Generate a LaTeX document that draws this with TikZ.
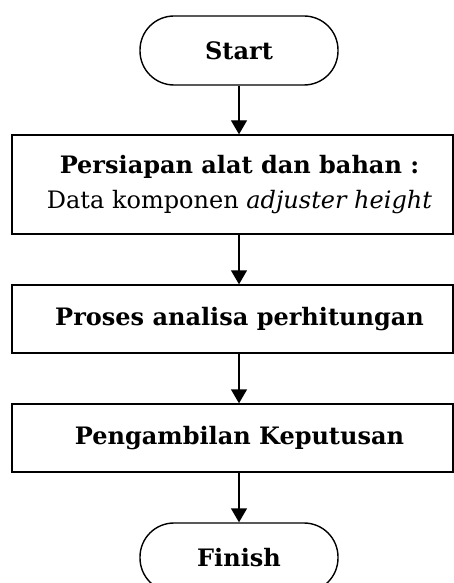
\documentclass[tikz,border=0pt]{standalone}
\usepackage{fontspec}
\setmainfont{DejaVu Serif}
\usetikzlibrary{arrows.meta}
\newcommand{\sh}{\hspace*{14pt}}
\begin{document}
\begin{tikzpicture}[x=1pt,y=-1pt,
  every node/.style={font=\fontsize{24}{35}\selectfont},
  term/.style={draw,line width=1.4pt,rounded corners=34pt,minimum width=198pt,minimum height=69pt,inner sep=0pt,font=\fontsize{24}{30}\selectfont\bfseries},
  proc/.style={draw,line width=1.4pt,minimum width=441pt,inner sep=0pt,align=center},
  arr/.style={line width=1.4pt,-{Triangle[length=14pt,width=16pt]}}]
\useasboundingbox (0,0) rectangle (454,583);
\clip (0,0) rectangle (454,583);
\node[term] (start) at (239,50.5) {\raisebox{-1.5pt}{Start}};
\node[proc,minimum height=99pt] (b1) at (232.5,184.5) {\sh\textbf{Persiapan alat dan bahan :}\\\sh Data komponen \textit{adjuster height}};
\node[proc,minimum height=68pt,font=\fontsize{24}{30}\selectfont\bfseries] (b2) at (232.5,319) {\sh\raisebox{3pt}{Proses analisa perhitungan}};
\node[proc,minimum height=68pt,font=\fontsize{24}{30}\selectfont\bfseries] (b3) at (232.5,438) {\sh\raisebox{3pt}{Pengambilan Keputusan}};
\node[term] (fin) at (239,557.5) {Finish};
\draw[arr] (start.south) -- (start.south |- b1.north);
\draw[arr] (b1.south -| start.south) -- (start.south |- b2.north);
\draw[arr] (b2.south -| start.south) -- (start.south |- b3.north);
\draw[arr] (b3.south -| start.south) -- (fin.north);
\end{tikzpicture}
\end{document}
